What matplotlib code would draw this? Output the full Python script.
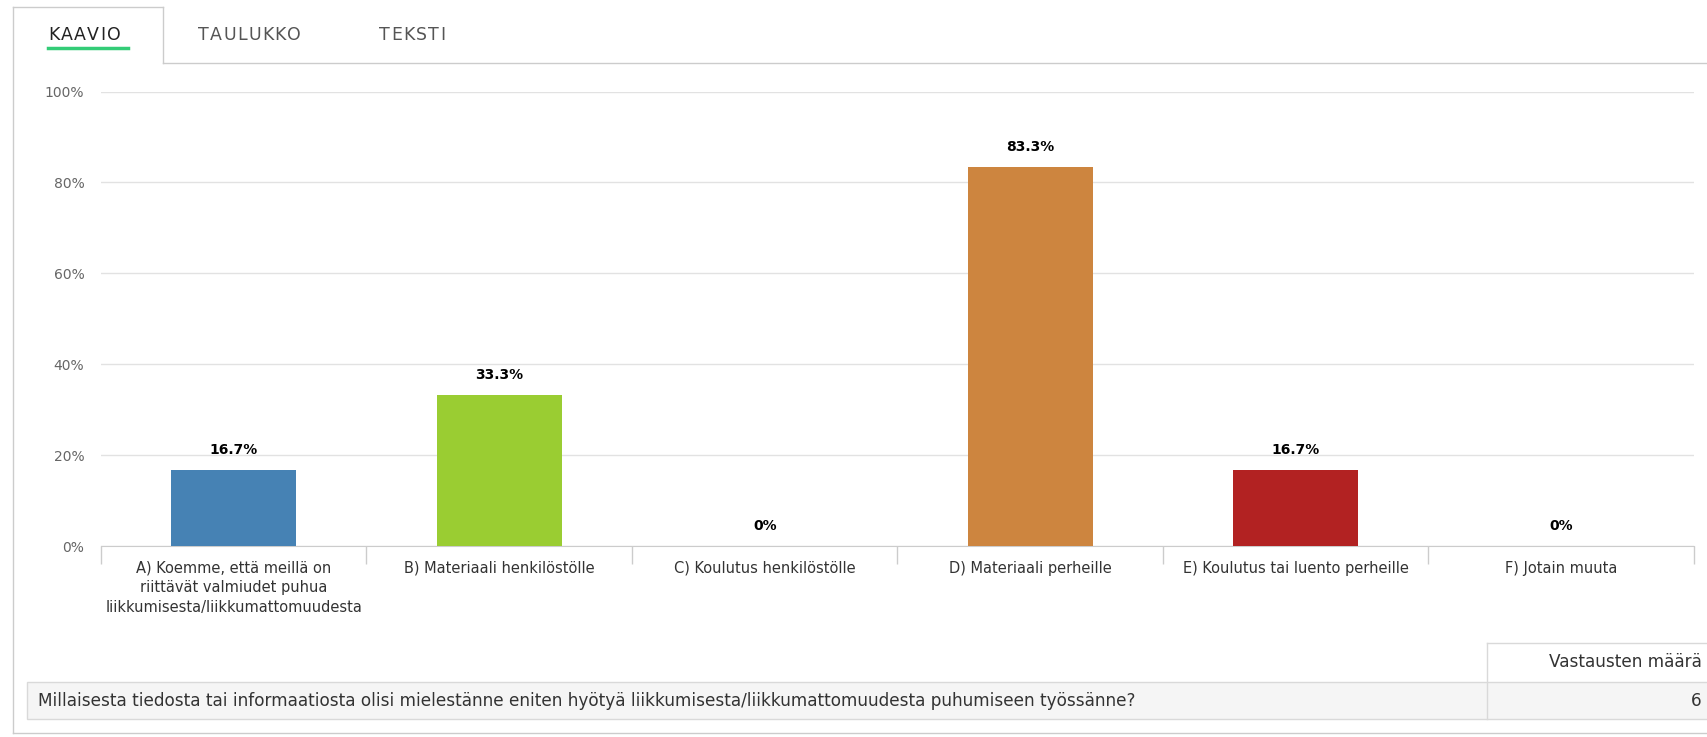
import numpy as np
import matplotlib
matplotlib.use("Agg")
import matplotlib.pyplot as plt
from matplotlib.lines import Line2D
from matplotlib.patches import Rectangle

# ---- data ----
categories = [
    "A) Koemme, että meillä on\nriittävät valmiudet puhua\nliikkumisesta/liikkumattomuudesta",
    "B) Materiaali henkilöstölle",
    "C) Koulutus henkilöstölle",
    "D) Materiaali perheille",
    "E) Koulutus tai luento perheille",
    "F) Jotain muuta",
]
values = [16.7, 33.3, 0, 83.3, 16.7, 0]
colors = ["#4682b4", "#9acd32", "#4682b4", "#cd853f", "#b22222", "#4682b4"]
y_ticks = [0, 20, 40, 60, 80, 100]
y_tick_labels = ["0%", "20%", "40%", "60%", "80%", "100%"]
tabs = ["KAAVIO", "TAULUKKO", "TEKSTI"]
question = ("Millaisesta tiedosta tai informaatiosta olisi mielestänne eniten hyötyä "
            "liikkumisesta/liikkumattomuudesta puhumiseen työssänne?")
count_header = "Vastausten määrä"
count_value = "6"

W, H = 1708, 737
fig = plt.figure(figsize=(W / 100, H / 100), dpi=100)
fig.patch.set_facecolor("white")
renderer = fig.canvas.get_renderer()


def fx(x):
    return x / W


def fy(y):
    return 1 - y / H


def fline(xs, ys, color="#cccccc", lw=1.0):
    fig.add_artist(Line2D([fx(v) for v in xs], [fy(v) for v in ys],
                          transform=fig.transFigure, color=color, lw=lw))


def spaced_text(x_left, y, s, spacing, **kw):
    cur = x_left
    for ch in s:
        t = fig.text(fx(cur), fy(y), ch, ha="left", va="center", **kw)
        w = t.get_window_extent(renderer=renderer).width
        cur += w + spacing


# ---- frame and tabs ----
fline([13, 13], [7, 733])
fline([13, 1708], [733, 733])
fline([13, 163], [7, 7])
fline([163, 163], [7, 63])
fline([163, 1708], [63, 63])

tab_left = [48, 198, 379]
tab_colors = ["#222222", "#555555", "#555555"]
for t, x, c in zip(tabs, tab_left, tab_colors):
    spaced_text(x, 35, t, 1.3, fontsize=12.5, color=c, family="DejaVu Sans")
fline([48, 128], [47.5, 47.5], color="#33cc77", lw=2.5)

# ---- chart ----
ax = fig.add_axes([fx(101), fy(546), (1694 - 101) / W, (546 - 91.5) / H])
x = np.arange(len(categories))
ax.bar(x, values, width=0.47, color=colors, zorder=3)
ax.set_xlim(-0.5, len(categories) - 0.5)
ax.set_ylim(0, 100)
ax.set_yticks(y_ticks)
ax.set_yticklabels(y_tick_labels, fontsize=10, color="#666666")
ax.yaxis.grid(True, color="#e2e2e2", lw=1, zorder=0)
ax.tick_params(axis="y", length=0, pad=12)
ax.set_xticks(x)
ax.set_xticklabels(categories, fontsize=10.5, color="#333333", linespacing=1.38)
ax.set_xticks(np.arange(-0.5, len(categories), 1), minor=True)
ax.tick_params(axis="x", which="major", length=0, pad=10.5)
ax.tick_params(axis="x", which="minor", length=13, color="#cccccc", width=1)
for s in ["left", "right", "top"]:
    ax.spines[s].set_visible(False)
ax.spines["bottom"].set_color("#cccccc")
ax.set_axisbelow(True)

for i, v in enumerate(values):
    lab = "0%" if v == 0 else f"{v:.1f}%"
    ax.annotate(lab, (i, v), xytext=(0, 20), textcoords="offset pixels",
                ha="center", va="center", fontsize=10, fontweight="bold",
                color="#000000")

# ---- table ----
fig.add_artist(Rectangle((fx(27), fy(719)), (1708 - 27) / W, (719 - 682) / H,
                         transform=fig.transFigure, facecolor="#f5f5f5",
                         edgecolor="#d9d9d9", lw=1))
fline([1487, 1487], [643, 719], color="#d9d9d9")
fline([1487, 1708], [643, 643], color="#d9d9d9")
fig.text(fx(1702), fy(662), count_header, ha="right", va="center",
         fontsize=12.2, color="#333333")
fig.text(fx(1702), fy(701), count_value, ha="right", va="center",
         fontsize=12.2, color="#333333")
fig.text(fx(38), fy(701), question, ha="left", va="center",
         fontsize=12.2, color="#333333")

fig.savefig("out.png", dpi=100, facecolor="white")
